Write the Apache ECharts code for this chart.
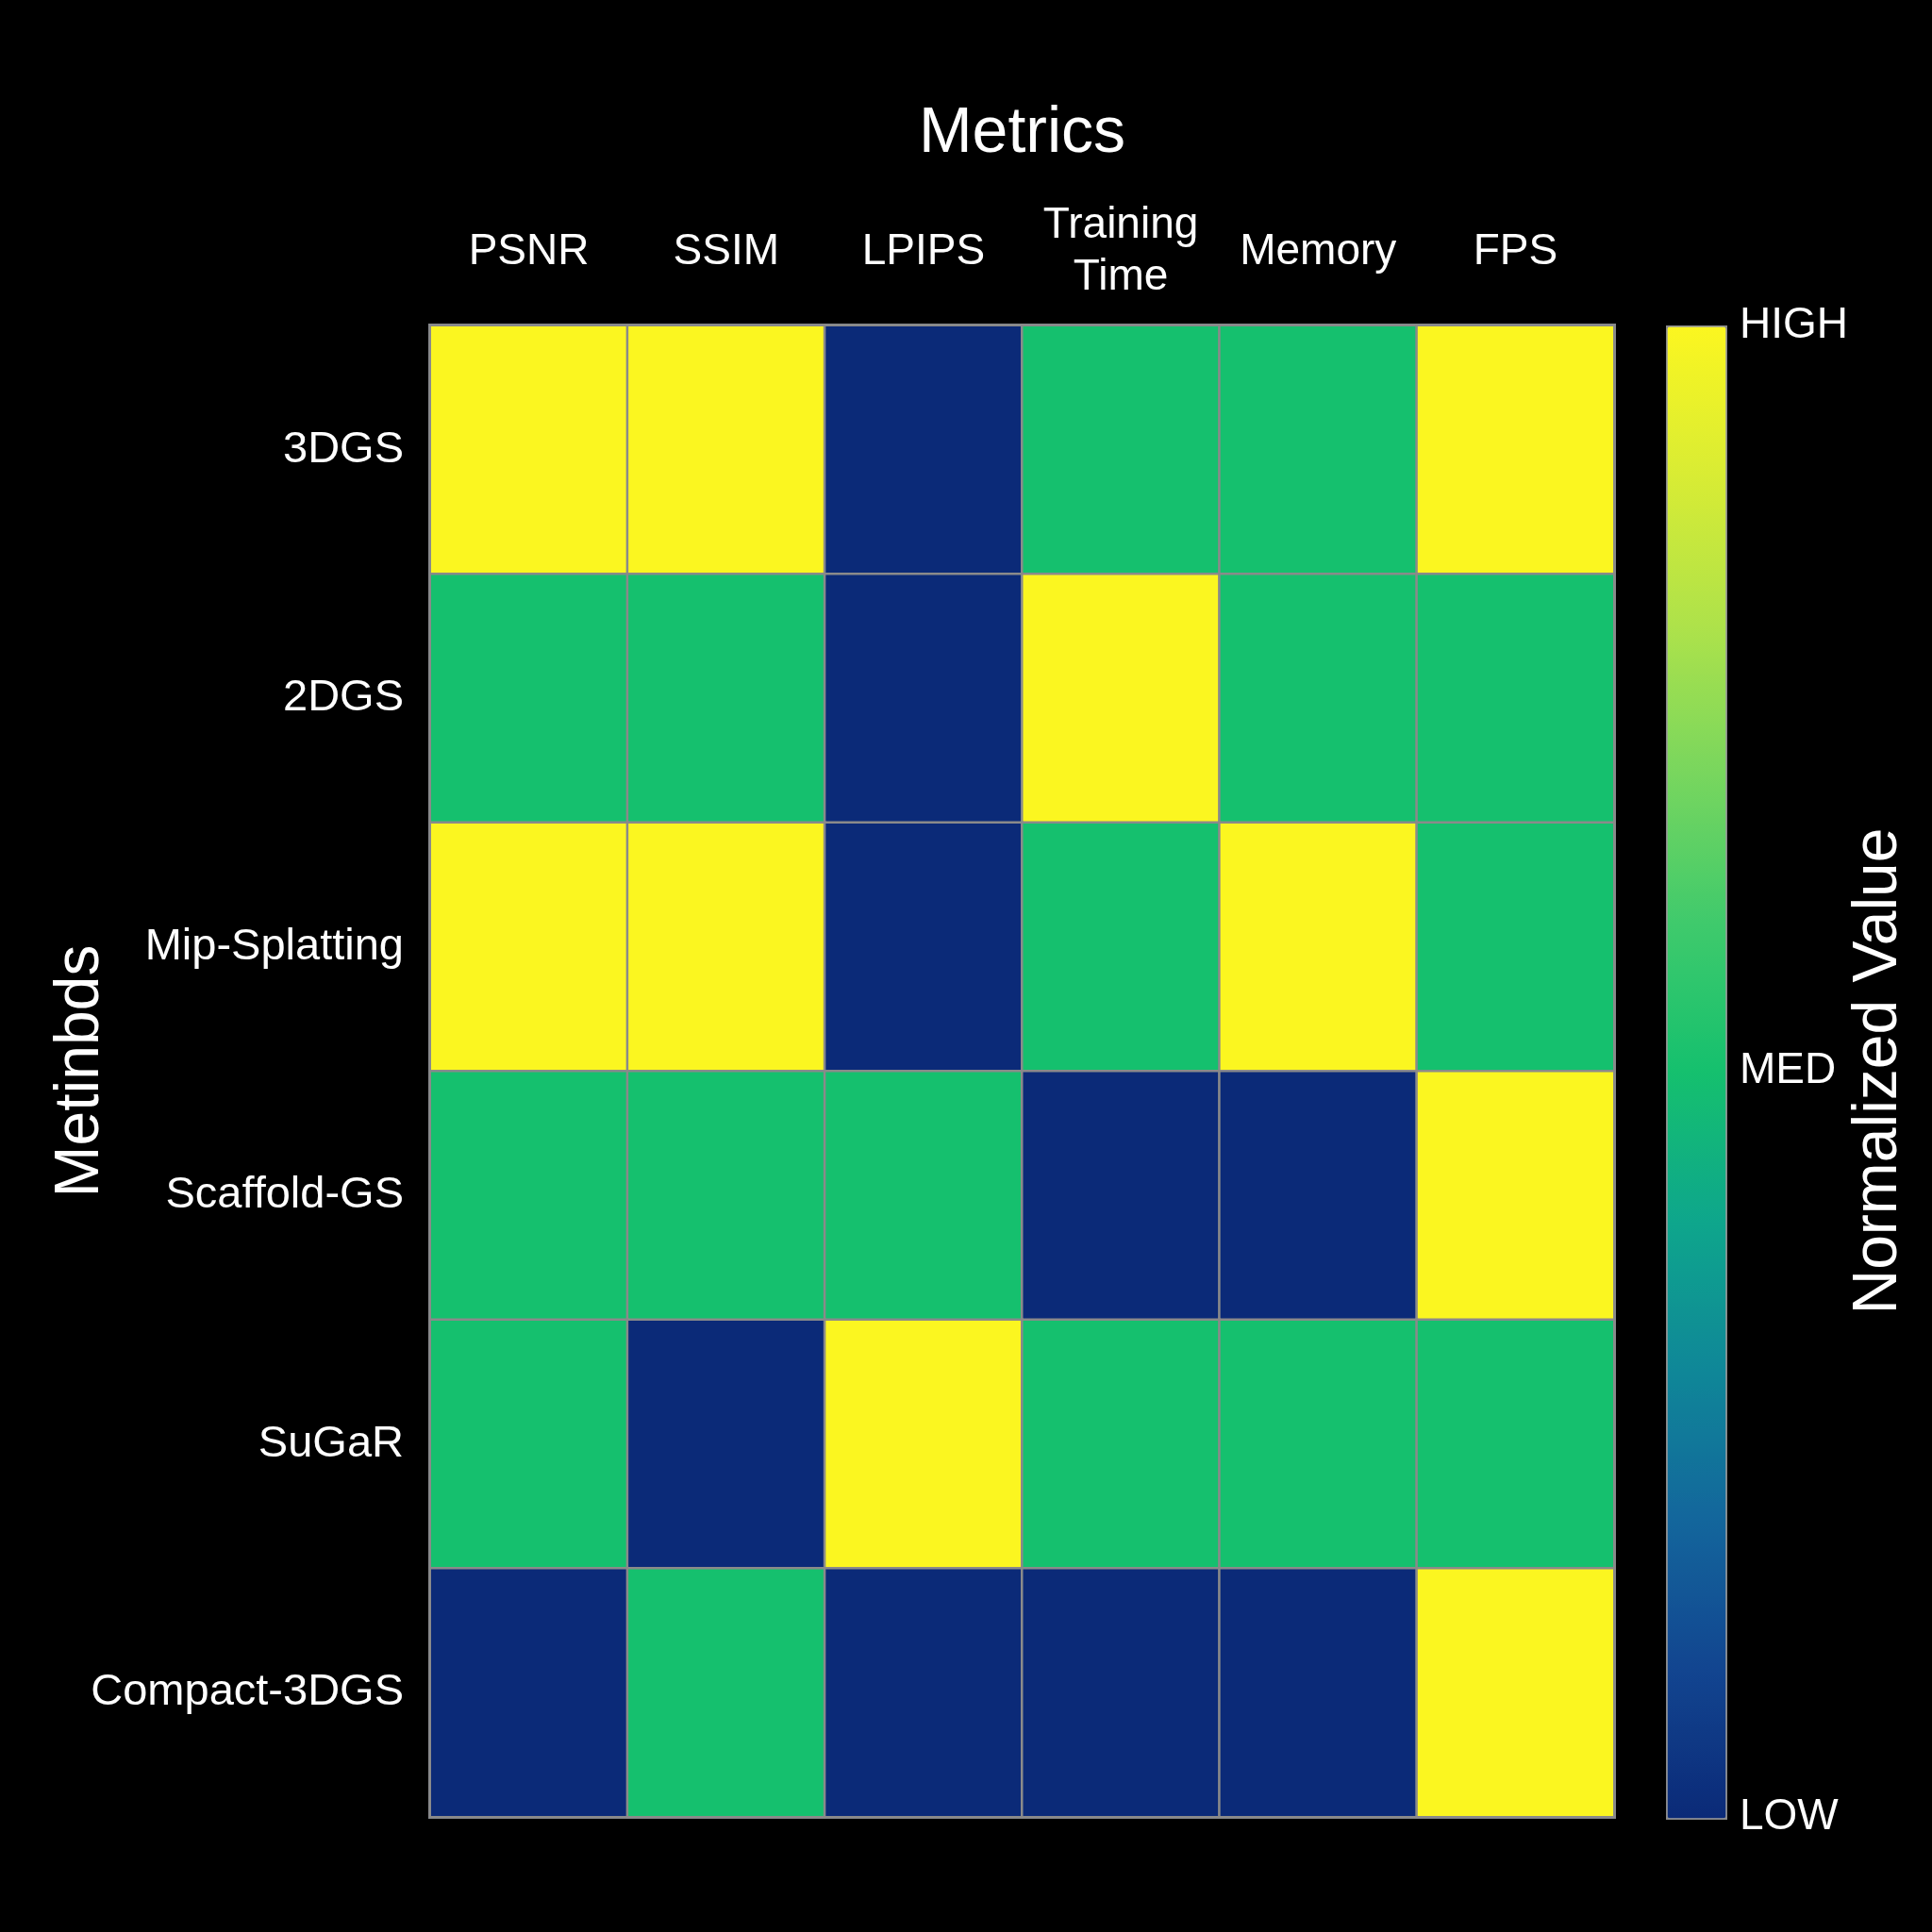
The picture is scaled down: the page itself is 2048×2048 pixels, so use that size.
<!DOCTYPE html>
<html>
<head>
<meta charset="utf-8">
<script src="https://cdn.jsdelivr.net/npm/echarts@6/dist/echarts.min.js"></script>
<style>
  html, body { margin: 0; padding: 0; background: #000; }
  #chart { width: 2048px; height: 2048px; }
</style>
</head>
<body>
<div id="chart"></div>
<script>
// columns and rows of the heatmap
var metrics = ['PSNR', 'SSIM', 'LPIPS', 'Training\nTime', 'Memory', 'FPS'];
var methods = ['3DGS', '2DGS', 'Mip-Splatting', 'Scaffold-GS', 'SuGaR', 'Compact-3DGS'];

// normalized values, 0 = low, 0.5 = med, 1 = high (one array per method)
var v3DGS        = [1,   1,   0,   0.5, 0.5, 1  ];
var v2DGS        = [0.5, 0.5, 0,   1,   0.5, 0.5];
var vMip         = [1,   1,   0,   0.5, 1,   0.5];
var vScaffold    = [0.5, 0.5, 0.5, 0,   0,   1  ];
var vSuGaR       = [0.5, 0,   1,   0.5, 0.5, 0.5];
var vCompact     = [0,   0.5, 0,   0,   0,   1  ];
var rows = [v3DGS, v2DGS, vMip, vScaffold, vSuGaR, vCompact];

// colour bar tick labels
var barTicks = { 0: 'LOW', 0.5: 'MED', 1: 'HIGH' };

var data = [];
rows.forEach(function (row, y) {
  row.forEach(function (v, x) {
    data.push([x, y, v]);
  });
});

var font = 'Liberation Sans, Arial, sans-serif';
var chart = echarts.init(document.getElementById('chart'));

var option = {
  backgroundColor: '#000',
  animation: false,
  grid: [
    { left: 456, top: 345, width: 1255, height: 1581, show: true, borderColor: '#80848c', borderWidth: 4, backgroundColor: 'transparent' },
    // grid that only carries the colour bar labels
    { left: 1766, top: 345, width: 62, height: 1581 }
  ],
  xAxis: [{
    type: 'category',
    data: metrics,
    position: 'top',
    gridIndex: 0,
    name: 'Metrics',
    nameLocation: 'middle',
    nameGap: 169,
    nameMoveOverlap: false,
    nameTextStyle: { color: '#fff', fontSize: 68, fontFamily: font },
    axisLine: { show: false },
    axisTick: { show: false },
    splitLine: { show: false },
    axisLabel: {
      interval: 0,
      color: '#fff', fontSize: 46, fontFamily: font,
      margin: 78, verticalAlign: 'middle', align: 'center', lineHeight: 55
    }
  }, {
    type: 'value', gridIndex: 1, show: false, min: 0, max: 1
  }],
  yAxis: [{
    type: 'category',
    data: methods,
    inverse: true,
    gridIndex: 0,
    name: 'Metinbds',
    nameLocation: 'middle',
    nameRotate: 90,
    nameGap: 337,
    nameMoveOverlap: false,
    nameTextStyle: { color: '#fff', fontSize: 66, fontFamily: font },
    axisLine: { show: false },
    axisTick: { show: false },
    splitLine: { show: false },
    axisLabel: { interval: 0, color: '#fff', fontSize: 47, fontFamily: font, margin: 28, padding: [14, 0, 0, 0] }
  }, {
    type: 'value',
    gridIndex: 1,
    position: 'right',
    min: 0, max: 1, interval: 0.5,
    name: 'Normalized Value',
    nameLocation: 'middle',
    nameRotate: 90,
    nameGap: 131,
    nameMoveOverlap: false,
    nameTextStyle: { color: '#fff', fontSize: 66, fontFamily: font },
    axisLine: { show: false },
    axisTick: { show: false },
    splitLine: { show: false },
    axisLabel: {
      color: '#fff', fontSize: 46, fontFamily: font, margin: 16,
      formatter: function (v) { return barTicks[v] || ''; }
    }
  }],
  visualMap: {
    type: 'continuous',
    min: 0, max: 1,
    calculable: false,
    seriesIndex: 0,
    orient: 'vertical',
    left: 1766, top: 345,
    itemWidth: 62, itemHeight: 1581,
    padding: 0,
    text: null,
    showLabel: false,
    borderColor: '#8a8a8a', borderWidth: 3,
    inRange: {
      color: ['#0b2a78', '#124590', '#13669c', '#0f8798', '#0ea68c', '#15c06e',
              '#3fca6c', '#78d65e', '#aee24a', '#d8ec34', '#fbf620']
    }
  },
  series: [{
    type: 'heatmap',
    xAxisIndex: 0, yAxisIndex: 0,
    data: data,
    label: { show: false },
    itemStyle: { borderColor: '#8a8a8a', borderWidth: 2.5 },
    emphasis: { disabled: true }
  }]
};

chart.setOption(option);
</script>
</body>
</html>
